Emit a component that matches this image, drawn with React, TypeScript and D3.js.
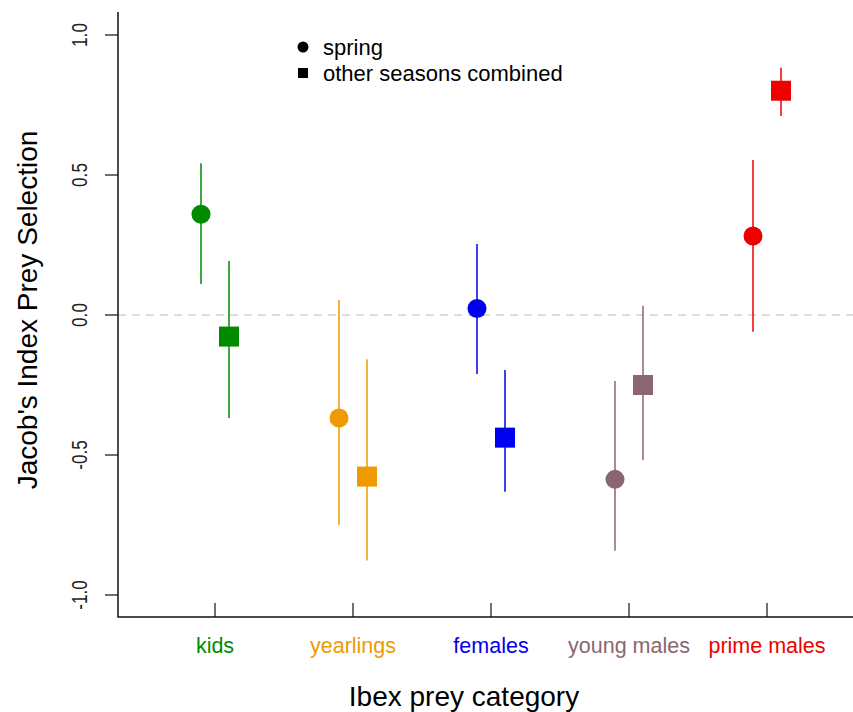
import React, { useRef, useEffect } from "react";
import * as d3 from "d3";

// categories and colours
const categories = ["kids", "yearlings", "females", "young males", "prime males"];
const colors = ["#008B00", "#EE9A00", "#0000EE", "#8B6570", "#EE0000"];

// spring (circles)
const springMean = [0.36, -0.368, 0.023, -0.587, 0.282];
const springLow = [0.111, -0.75, -0.211, -0.842, -0.06];
const springHigh = [0.542, 0.054, 0.254, -0.236, 0.554];

// other seasons combined (squares)
const otherMean = [-0.077, -0.577, -0.438, -0.25, 0.801];
const otherLow = [-0.368, -0.877, -0.631, -0.518, 0.711];
const otherHigh = [0.193, -0.158, -0.196, 0.033, 0.883];

const yTicks = [-1.0, -0.5, 0.0, 0.5, 1.0];

const App = () => {
  const svgRef = useRef<SVGSVGElement>(null);

  useEffect(() => {
    const svg = d3.select(svgRef.current);
    svg.selectAll("*").remove();

    const font = "Liberation Sans, Arial, Helvetica, sans-serif";
    const left = 118;
    const right = 853;
    const top = 12;
    const bottom = 617;

    const x = d3.scaleLinear().domain([0, 4]).range([215, 767]);
    const y = d3.scaleLinear().domain([-1, 1]).range([595, 35]);
    const offset = 14;

    // zero reference line
    svg
      .append("line")
      .attr("x1", left)
      .attr("x2", right)
      .attr("y1", y(0))
      .attr("y2", y(0))
      .attr("stroke", "#d3d3d3")
      .attr("stroke-width", 1.5)
      .attr("stroke-dasharray", "8,6");

    // L-shaped frame
    svg
      .append("path")
      .attr("d", `M${left},${top}V${bottom}H${right}`)
      .attr("fill", "none")
      .attr("stroke", "#111")
      .attr("stroke-width", 1.5);

    // y ticks + labels (labels are narrow in the original)
    const yAxis = svg.append("g");
    yTicks.forEach((t) => {
      yAxis
        .append("line")
        .attr("x1", left - 13)
        .attr("x2", left)
        .attr("y1", y(t))
        .attr("y2", y(t))
        .attr("stroke", "#111")
        .attr("stroke-width", 1.2);
      yAxis
        .append("text")
        .attr("transform", `translate(87,${y(t)}) rotate(-90) scale(0.78,1)`)
        .attr("text-anchor", "middle")
        .style("font-family", font)
        .style("font-size", "22px")
        .attr("fill", "#222")
        .text(t.toFixed(1));
    });

    // x ticks (pointing up) + coloured category labels
    categories.forEach((c, i) => {
      svg
        .append("line")
        .attr("x1", x(i))
        .attr("x2", x(i))
        .attr("y1", bottom - 14)
        .attr("y2", bottom)
        .attr("stroke", "#111")
        .attr("stroke-width", 1.2);
      svg
        .append("text")
        .attr("x", x(i))
        .attr("y", 653)
        .attr("text-anchor", "middle")
        .style("font-family", font)
        .style("font-size", "21.5px")
        .attr("fill", colors[i])
        .text(c);
    });

    // axis titles
    svg
      .append("text")
      .attr("x", 464)
      .attr("y", 706)
      .attr("text-anchor", "middle")
      .style("font-family", font)
      .style("font-size", "28px")
      .text("Ibex prey category");

    svg
      .append("text")
      .attr("transform", `translate(37,${y(0) - 5}) rotate(-90)`)
      .attr("text-anchor", "middle")
      .style("font-family", font)
      .style("font-size", "28px")
      .text("Jacob's Index Prey Selection");

    // error bars
    const bars = svg.append("g");
    categories.forEach((c, i) => {
      bars
        .append("line")
        .attr("x1", x(i) - offset)
        .attr("x2", x(i) - offset)
        .attr("y1", y(springLow[i]))
        .attr("y2", y(springHigh[i]))
        .attr("stroke", colors[i])
        .attr("stroke-width", 1.5);
      bars
        .append("line")
        .attr("x1", x(i) + offset)
        .attr("x2", x(i) + offset)
        .attr("y1", y(otherLow[i]))
        .attr("y2", y(otherHigh[i]))
        .attr("stroke", colors[i])
        .attr("stroke-width", 1.5);
    });

    // points
    svg
      .selectAll(".spring")
      .data(springMean)
      .enter()
      .append("circle")
      .attr("cx", (d, i) => x(i) - offset)
      .attr("cy", (d) => y(d))
      .attr("r", 9.5)
      .attr("fill", (d, i) => colors[i]);

    const sq = 20;
    svg
      .selectAll(".other")
      .data(otherMean)
      .enter()
      .append("rect")
      .attr("x", (d, i) => x(i) + offset - sq / 2)
      .attr("y", (d) => y(d) - sq / 2)
      .attr("width", sq)
      .attr("height", sq)
      .attr("fill", (d, i) => colors[i]);

    // legend
    const legend = svg.append("g");
    legend.append("circle").attr("cx", 303).attr("cy", 47).attr("r", 5.5).attr("fill", "#000");
    legend.append("rect").attr("x", 298).attr("y", 68).attr("width", 10).attr("height", 10).attr("fill", "#000");
    legend
      .append("text")
      .attr("x", 323)
      .attr("y", 55)
      .style("font-family", font)
      .style("font-size", "22px")
      .text("spring");
    legend
      .append("text")
      .attr("x", 323)
      .attr("y", 81)
      .style("font-family", font)
      .style("font-size", "22px")
      .text("other seasons combined");
  }, []);

  return (
    <svg
      ref={svgRef}
      width={853}
      height={712}
      style={{ position: "absolute", left: 0, top: 0, background: "#fff" }}
    ></svg>
  );
};

export default App;
